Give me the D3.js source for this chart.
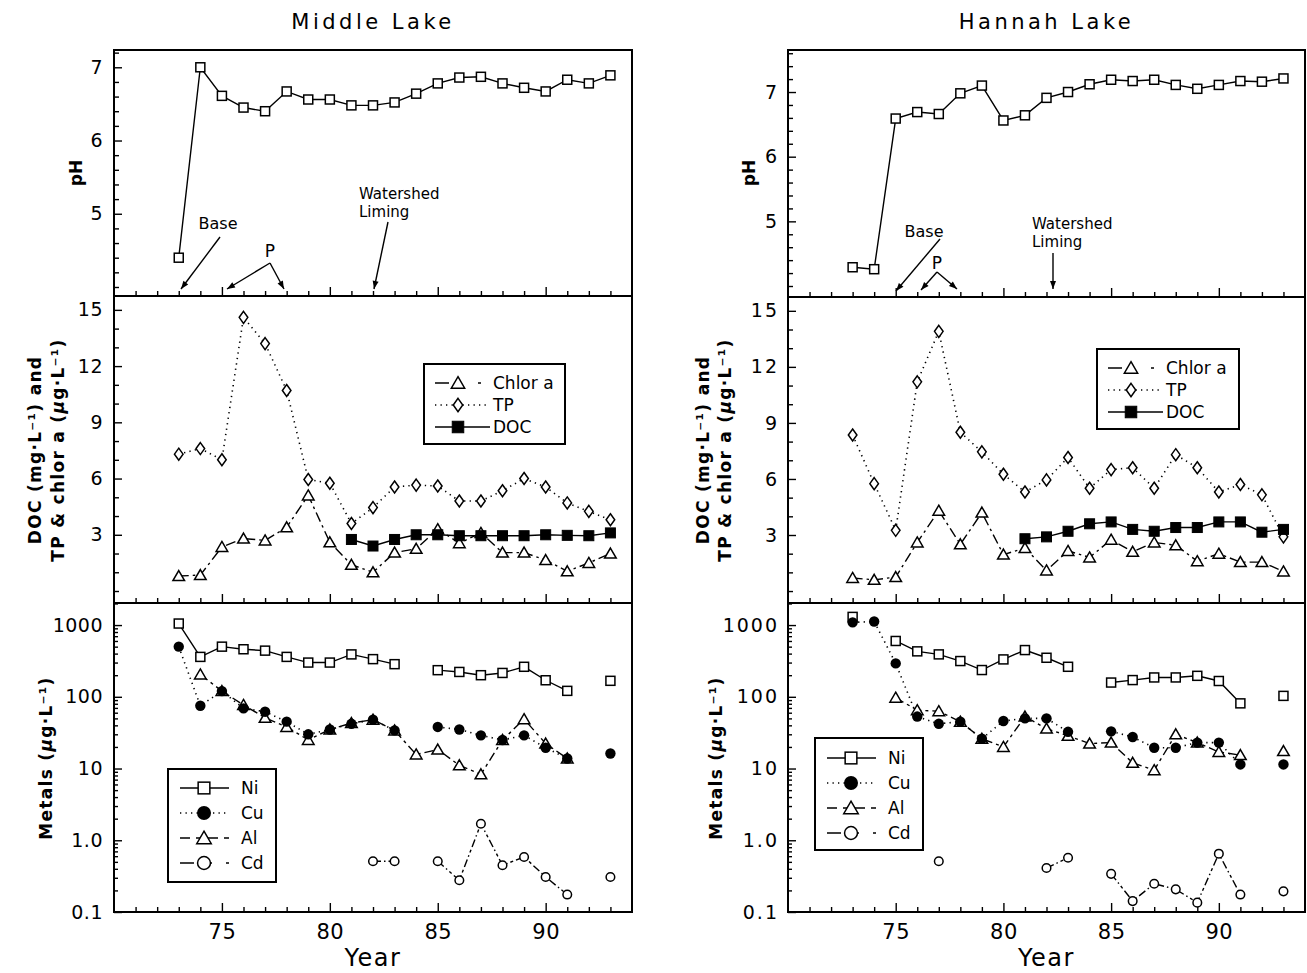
<!DOCTYPE html>
<html>
<head>
<meta charset="utf-8">
<script src="https://cdn.jsdelivr.net/npm/d3@7"></script>
<style>
  body { margin: 0; background: #fff; }
  text { font-family: "DejaVu Sans", sans-serif; fill: #000; }
</style>
</head>
<body>
<svg id="chart" width="1307" height="973"></svg>
<script>
// ---- sampling years (19xx) ----
const years = d3.range(73, 94);

// ---- pH ----
const middlePH = [4.4, 7.0, 6.61, 6.45, 6.4, 6.67, 6.56, 6.56, 6.48, 6.48, 6.52, 6.64, 6.78, 6.86, 6.87, 6.78, 6.72, 6.67, 6.83, 6.78, 6.89];
const hannahPH = [4.29, 4.26, 6.59, 6.69, 6.66, 6.98, 7.10, 6.56, 6.64, 6.91, 7.0, 7.12, 7.19, 7.17, 7.19, 7.11, 7.05, 7.11, 7.17, 7.16, 7.21];

// ---- nutrients: TP, chlorophyll a (µg/L), DOC (mg/L) ----
const middleTP   = [7.3, 7.6, 7.0, 14.6, 13.2, 10.7, 5.95, 5.75, 3.6, 4.45, 5.55, 5.65, 5.6, 4.8, 4.8, 5.35, 6.0, 5.55, 4.7, 4.25, 3.8];
const middleChl  = [0.8, 0.85, 2.35, 2.8, 2.7, 3.4, 5.1, 2.6, 1.4, 1.0, 2.05, 2.25, 3.3, 2.55, 3.1, 2.05, 2.05, 1.65, 1.05, 1.5, 2.0];
const middleDOC  = [null, null, null, null, null, null, null, null, 2.75, 2.4, 2.75, 3.0, 3.0, 2.95, 2.95, 2.95, 2.95, 3.0, 2.97, 2.95, 3.1];
const hannahTP   = [8.35, 5.75, 3.25, 11.2, 13.9, 8.5, 7.45, 6.25, 5.3, 5.95, 7.15, 5.5, 6.5, 6.6, 5.5, 7.3, 6.6, 5.3, 5.7, 5.15, 2.9];
const hannahChl  = [0.7, 0.6, 0.75, 2.6, 4.3, 2.5, 4.2, 1.95, 2.3, 1.1, 2.15, 1.8, 2.75, 2.1, 2.6, 2.45, 1.6, 2.0, 1.55, 1.55, 1.05];
const hannahDOC  = [null, null, null, null, null, null, null, null, 2.8, 2.9, 3.2, 3.6, 3.7, 3.3, 3.2, 3.4, 3.4, 3.7, 3.7, 3.15, 3.3];

// ---- metals (µg/L) ----
const middleNi = [1050, 360, 500, 460, 440, 360, 300, 300, 390, 335, 285, null, 235, 222, 200, 215, 262, 170, 121, null, 167];
const middleCu = [500, 75, 120, 69, 62, 45, 30, 35, 42, 48, 34, null, 38, 35, 29, 25, 29, 19.5, 13.8, null, 16.2];
const middleAl = [null, 205, 120, 77, 51, 38, 25, 35, 43, 48, 34, 15.7, 18.4, 11.1, 8.3, 25, 48.8, 22.3, 13.8, null, null];
const middleCd = [null, null, null, null, null, null, null, null, null, 0.51, 0.51, null, 0.51, 0.277, 1.7, 0.448, 0.585, 0.308, 0.175, null, 0.308];
const hannahNi = [1300, null, 600, 430, 390, 315, 236, 332, 448, 350, 262, null, 158, 171, 186, 186, 196, 166, 81, null, 103];
const hannahCu = [1090, 1120, 292, 53, 42, 45, 26, 46, 50, 50, 32.5, null, 33, 27.5, 19.5, 19.5, 23, 23, 11.4, null, 11.4];
const hannahAl = [null, null, 97, 65, 63, 45, 26, 20, 53, 36, 28.6, 22.3, 23, 12, 9.5, 30, 23, 17, 15.4, null, 17.5];
const hannahCd = [null, null, null, null, 0.51, null, null, null, null, 0.41, 0.57, null, 0.34, 0.142, 0.248, 0.207, 0.135, 0.65, 0.175, null, 0.194];

// ---- tick labels ----
const yearTicks = [75, 80, 85, 90];
const phTicks = [5, 6, 7];
const nutrientTicks = [3, 6, 9, 12, 15];
const metalTicks = [0.1, 1, 10, 100, 1000];
const metalTickLabels = ["0.1", "1.0", "10", "100", "1000"];

const svg = d3.select("#chart");

// line dash patterns
const DASH = {
  solid: null,
  dotted: "1.3,4.2",
  chl: "10,4,2.5,4",
  al: "9,4,3,4",
  cd: "8,3,1.5,3,3,3"
};

// marker drawing helper
function marker(g, type, cx, cy, s) {
  const k = s || 1;
  if (type === "square") {
    g.append("rect").attr("x", cx - 4.5 * k).attr("y", cy - 4.5 * k)
      .attr("width", 9 * k).attr("height", 9 * k)
      .attr("fill", "#fff").attr("stroke", "#000").attr("stroke-width", 1.5);
  } else if (type === "fsquare") {
    g.append("rect").attr("x", cx - 5 * k).attr("y", cy - 5 * k)
      .attr("width", 10 * k).attr("height", 10 * k)
      .attr("fill", "#000").attr("stroke", "#000").attr("stroke-width", 1);
  } else if (type === "diamond") {
    g.append("path")
      .attr("d", `M${cx},${cy - 6 * k}L${cx + 4.3 * k},${cy}L${cx},${cy + 6 * k}L${cx - 4.3 * k},${cy}Z`)
      .attr("fill", "#fff").attr("stroke", "#000").attr("stroke-width", 1.5);
  } else if (type === "triangle") {
    g.append("path")
      .attr("d", `M${cx},${cy - 5.5 * k}L${cx + 5.8 * k},${cy + 4.5 * k}L${cx - 5.8 * k},${cy + 4.5 * k}Z`)
      .attr("fill", "#fff").attr("stroke", "#000").attr("stroke-width", 1.5);
  } else if (type === "fcircle") {
    g.append("circle").attr("cx", cx).attr("cy", cy).attr("r", 5.2 * k)
      .attr("fill", "#000");
  } else if (type === "circle") {
    g.append("circle").attr("cx", cx).attr("cy", cy).attr("r", 4.3 * k)
      .attr("fill", "#fff").attr("stroke", "#000").attr("stroke-width", 1.5);
  }
}

function series(g, x, y, values, type, dash, width) {
  const pts = years.map((yr, i) => ({ yr, v: values[i] }));
  const line = d3.line()
    .defined(d => d.v !== null)
    .x(d => x(d.yr)).y(d => y(d.v));
  const p = g.append("path").datum(pts).attr("d", line)
    .attr("fill", "none").attr("stroke", "#000")
    .attr("stroke-width", width || 1.4);
  if (dash) p.attr("stroke-dasharray", dash);
  return pts;
}

function drawMarkers(g, x, y, pts, type) {
  pts.filter(d => d.v !== null).forEach(d => marker(g, type, x(d.yr), y(d.v)));
}

function arrow(g, x1, y1, x2, y2) {
  g.append("line").attr("x1", x1).attr("y1", y1).attr("x2", x2).attr("y2", y2)
    .attr("stroke", "#000").attr("stroke-width", 1.4);
  const a = Math.atan2(y2 - y1, x2 - x1), L = 8, W = 3;
  const bx = x2 - L * Math.cos(a), by = y2 - L * Math.sin(a);
  const nx = -Math.sin(a) * W, ny = Math.cos(a) * W;
  g.append("path").attr("d", `M${x2},${y2}L${bx + nx},${by + ny}L${bx - nx},${by - ny}Z`)
    .attr("fill", "#000");
}

function legendRow(g, x0, x1, xm, y, dash, type, label, tx, k) {
  const l = g.append("line").attr("x1", x0).attr("x2", x1).attr("y1", y).attr("y2", y)
    .attr("stroke", "#000").attr("stroke-width", 1.5);
  if (dash) l.attr("stroke-dasharray", dash);
  marker(g, type, xm, y, k);
  g.append("text").attr("x", tx).attr("y", y).attr("dy", "0.36em")
    .attr("font-size", 17).text(label);
}

function styleAxis(sel, fontSize, spacing) {
  sel.select(".domain").remove();
  sel.selectAll(".tick line").attr("stroke", "#000").attr("stroke-width", 1.4);
  sel.selectAll(".tick text").attr("font-size", fontSize)
    .attr("font-family", "DejaVu Sans, sans-serif")
    .attr("letter-spacing", spacing || 0);
}

function rotLabel(g, x, y, build) {
  const t = g.append("text").attr("transform", `translate(${x},${y}) rotate(-90)`)
    .attr("text-anchor", "middle").attr("font-size", 17).attr("font-weight", "bold")
    .attr("letter-spacing", 1.3);
  build(t);
}

function drawLake(cfg) {
  const g = svg.append("g");
  const top = 50, sep1 = cfg.sep1, sep2 = 603, bottom = 912;
  const x = d3.scaleLinear().domain([70, 94]).range([cfg.x0, cfg.x1]);
  const yPH = d3.scaleLinear().domain(cfg.phDomain).range([sep1, top]);
  const yNut = d3.scaleLinear().domain([-0.64, 15.74]).range([sep2, sep1]);
  const yMet = d3.scaleLog().domain([0.1, 2030]).range([bottom, sep2]);

  // ----- x ticks along the bottom of each panel -----
  const minorYears = d3.range(71, 94).filter(v => v % 5 !== 0);
  [sep1, sep2, bottom].forEach(by => {
    const gm = g.append("g").attr("transform", `translate(0,${by})`)
      .call(d3.axisBottom(x).tickValues(minorYears).tickSize(-5).tickFormat(""));
    styleAxis(gm, 0);
    const gM = g.append("g").attr("transform", `translate(0,${by})`)
      .call(d3.axisBottom(x).tickValues(yearTicks).tickSize(-9).tickPadding(12)
        .tickFormat(by === bottom ? d3.format("d") : ""));
    styleAxis(gM, 21, 0.5);
  });

  // ----- y axes -----
  const pad = cfg.labelPad;
  const phMinor = d3.range(40, Math.floor(cfg.phDomain[1] * 10) + 1, 2).map(v => v / 10).filter(v => !phTicks.includes(v));
  styleAxis(g.append("g").attr("transform", `translate(${cfg.x0},0)`)
    .call(d3.axisLeft(yPH).tickValues(phMinor).tickSize(-5).tickFormat("")), 0);
  styleAxis(g.append("g").attr("transform", `translate(${cfg.x0},0)`)
    .call(d3.axisLeft(yPH).tickValues(phTicks).tickSize(-8).tickPadding(pad).tickFormat(d3.format("d"))), 19, cfg.spacing);

  const nutMinor = d3.range(0, 16).filter(v => !nutrientTicks.includes(v));
  styleAxis(g.append("g").attr("transform", `translate(${cfg.x0},0)`)
    .call(d3.axisLeft(yNut).tickValues(nutMinor).tickSize(-5).tickFormat("")), 0);
  styleAxis(g.append("g").attr("transform", `translate(${cfg.x0},0)`)
    .call(d3.axisLeft(yNut).tickValues(nutrientTicks).tickSize(-8).tickPadding(pad).tickFormat(d3.format("d"))), 19, cfg.spacing);

  const metMinor = [];
  [0.1, 1, 10, 100, 1000].forEach(d => d3.range(2, 10).forEach(m => { if (d * m < 2030) metMinor.push(d * m); }));
  styleAxis(g.append("g").attr("transform", `translate(${cfg.x0},0)`)
    .call(d3.axisLeft(yMet).tickValues(metMinor).tickSize(-4).tickFormat("")), 0);
  styleAxis(g.append("g").attr("transform", `translate(${cfg.x0},0)`)
    .call(d3.axisLeft(yMet).tickValues(metalTicks).tickSize(-8).tickPadding(pad)
      .tickFormat((d, i) => metalTickLabels[i])), 19, cfg.spacing);

  // ----- frame -----
  g.append("rect").attr("x", cfg.x0).attr("y", top).attr("width", cfg.x1 - cfg.x0).attr("height", bottom - top)
    .attr("fill", "none").attr("stroke", "#000").attr("stroke-width", 2);
  [sep1, sep2].forEach(sy => g.append("line").attr("x1", cfg.x0).attr("x2", cfg.x1)
    .attr("y1", sy).attr("y2", sy).attr("stroke", "#000").attr("stroke-width", 2));

  // ----- pH panel -----
  const phPts = series(g, x, yPH, cfg.ph, "square", DASH.solid);
  drawMarkers(g, x, yPH, phPts, "square");

  // ----- nutrient panel -----
  const chlPts = series(g, x, yNut, cfg.chl, "triangle", DASH.chl);
  const tpPts = series(g, x, yNut, cfg.tp, "diamond", DASH.dotted, 1.6);
  const docPts = series(g, x, yNut, cfg.doc, "fsquare", DASH.solid);
  drawMarkers(g, x, yNut, chlPts, "triangle");
  drawMarkers(g, x, yNut, tpPts, "diamond");
  drawMarkers(g, x, yNut, docPts, "fsquare");

  // ----- metals panel -----
  const niPts = series(g, x, yMet, cfg.ni, "square", DASH.solid);
  const cuPts = series(g, x, yMet, cfg.cu, "fcircle", DASH.dotted, 1.6);
  const alPts = series(g, x, yMet, cfg.al, "triangle", DASH.al);
  const cdPts = series(g, x, yMet, cfg.cd, "circle", DASH.cd);
  drawMarkers(g, x, yMet, niPts, "square");
  drawMarkers(g, x, yMet, alPts, "triangle");
  drawMarkers(g, x, yMet, cuPts, "fcircle");
  drawMarkers(g, x, yMet, cdPts, "circle");

  // ----- legends -----
  const L1 = cfg.nutLegend;
  g.append("rect").attr("x", L1.x).attr("y", L1.y).attr("width", L1.w).attr("height", L1.h)
    .attr("fill", "#fff").attr("stroke", "#000").attr("stroke-width", 2);
  const lx = L1.x + 11, mx = L1.x + 34, tx = L1.x + 69;
  const chlRow = g.append("g");
  chlRow.append("line").attr("x1", lx).attr("x2", lx + 14).attr("y1", L1.y + 19).attr("y2", L1.y + 19)
    .attr("stroke", "#000").attr("stroke-width", 1.5);
  chlRow.append("line").attr("x1", mx + 20).attr("x2", mx + 23).attr("y1", L1.y + 19).attr("y2", L1.y + 19)
    .attr("stroke", "#000").attr("stroke-width", 1.5);
  marker(chlRow, "triangle", mx, L1.y + 19, 1.15);
  chlRow.append("text").attr("x", tx).attr("y", L1.y + 19).attr("dy", "0.36em").attr("font-size", 17).text("Chlor  a");
  legendRow(g, lx, lx + 55, mx, L1.y + 41, DASH.dotted, "diamond", "TP", tx, 1.1);
  legendRow(g, lx, lx + 55, mx, L1.y + 63, null, "fsquare", "DOC", tx, 1.15);

  const L2 = cfg.metLegend;
  g.append("rect").attr("x", L2.x).attr("y", L2.y).attr("width", L2.w).attr("height", L2.h)
    .attr("fill", "#fff").attr("stroke", "#000").attr("stroke-width", 2);
  const ax = L2.x + 12, am = L2.x + 36, at = L2.x + 73;
  legendRow(g, ax, ax + 49, am, L2.y + L2.row0, null, "square", "Ni", at, 1.3);
  legendRow(g, ax, ax + 49, am, L2.y + L2.row0 + L2.dy, DASH.dotted, "fcircle", "Cu", at, 1.35);
  legendRow(g, ax, ax + 49, am, L2.y + L2.row0 + 2 * L2.dy, "10,6,6,6", "triangle", "Al", at, 1.25);
  legendRow(g, ax, ax + 49, am, L2.y + L2.row0 + 3 * L2.dy, "14,6,2,4,6", "circle", "Cd", at, 1.5);

  // ----- treatment annotations -----
  const A = cfg.annot;
  const ann = g.append("g");
  ann.append("text").attr("x", A.base[0]).attr("y", A.base[1]).attr("text-anchor", "middle")
    .attr("font-size", 16).text("Base");
  arrow(ann, ...A.baseArrow);
  ann.append("text").attr("x", A.p[0]).attr("y", A.p[1]).attr("text-anchor", "middle")
    .attr("font-size", 17).text("P");
  arrow(ann, ...A.pArrow1);
  arrow(ann, ...A.pArrow2);
  ann.append("text").attr("x", A.ws[0]).attr("y", A.ws[1]).attr("font-size", 15).text("Watershed");
  ann.append("text").attr("x", A.ws[0]).attr("y", A.ws[1] + 18).attr("font-size", 15).text("Liming");
  arrow(ann, ...A.wsArrow);

  // ----- titles -----
  g.append("text").attr("x", (cfg.x0 + cfg.x1) / 2).attr("y", 29).attr("text-anchor", "middle")
    .attr("font-size", 21).attr("letter-spacing", 3.5).text(cfg.title);
  g.append("text").attr("x", (cfg.x0 + cfg.x1) / 2).attr("y", 966).attr("text-anchor", "middle")
    .attr("font-size", 24).attr("letter-spacing", 1.5).text("Year");

  rotLabel(g, cfg.yl.ph, 173, t => t.attr("dy", "0.35em").attr("letter-spacing", 0).text("pH"));
  rotLabel(g, cfg.yl.doc1, 450, t => {
    t.attr("dy", "0.35em");
    t.append("tspan").text("DOC  (mg·L⁻¹)  and");
  });
  rotLabel(g, cfg.yl.doc2, 450, t => {
    t.attr("dy", "0.35em");
    t.append("tspan").text("TP & chlor a  (");
    t.append("tspan").attr("font-style", "italic").text("μ");
    t.append("tspan").text("g·L⁻¹)");
  });
  rotLabel(g, cfg.yl.met, 758, t => {
    t.attr("dy", "0.35em");
    t.append("tspan").text("Metals    (");
    t.append("tspan").attr("font-style", "italic").text("μ");
    t.append("tspan").text("g·L⁻¹)");
  });
}

drawLake({
  title: "Middle Lake", x0: 114, x1: 632, sep1: 296, phDomain: [3.877, 7.236],
  labelPad: 11, spacing: 0.5,
  ph: middlePH, tp: middleTP, chl: middleChl, doc: middleDOC,
  ni: middleNi, cu: middleCu, al: middleAl, cd: middleCd,
  nutLegend: { x: 424, y: 364, w: 141, h: 80 },
  metLegend: { x: 168, y: 769, w: 108, h: 113, row0: 19, dy: 25 },
  annot: {
    base: [218, 229], baseArrow: [220, 237, 181, 289],
    p: [270, 257], pArrow1: [270, 263, 227, 289], pArrow2: [270, 263, 284, 289],
    ws: [359, 199], wsArrow: [388, 222, 374, 289]
  },
  yl: { ph: 76, doc1: 35, doc2: 58, met: 46 }
});

drawLake({
  title: "Hannah Lake", x0: 788, x1: 1305, sep1: 297, phDomain: [3.83, 7.65],
  labelPad: 9, spacing: 2,
  ph: hannahPH, tp: hannahTP, chl: hannahChl, doc: hannahDOC,
  ni: hannahNi, cu: hannahCu, al: hannahAl, cd: hannahCd,
  nutLegend: { x: 1097, y: 349, w: 142, h: 80 },
  metLegend: { x: 815, y: 738, w: 108, h: 112, row0: 20, dy: 25 },
  annot: {
    base: [924, 237], baseArrow: [940, 239, 896, 291],
    p: [937, 269], pArrow1: [937, 272, 921, 290], pArrow2: [937, 272, 957, 289],
    ws: [1032, 229], wsArrow: [1053, 253, 1053, 289]
  },
  yl: { ph: 749, doc1: 703, doc2: 725, met: 716 }
});
</script>
</body>
</html>
